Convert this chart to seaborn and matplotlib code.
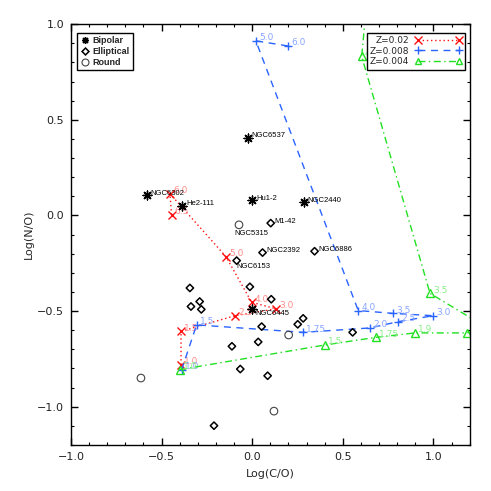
import numpy as np
import pandas as pd
import matplotlib
matplotlib.use("Agg")
import matplotlib.pyplot as plt
from matplotlib.lines import Line2D
from matplotlib.ticker import MultipleLocator
import seaborn as sns

# ---------------- data ----------------
bip_names = ["NGC6302", "He2-111", "NGC6537", "Hu1-2", "NGC2440", "NGC6445"]
bip_co = [-0.583, -0.388, -0.025, 0.0, 0.283, 0.0]
bip_no = [0.105, 0.052, 0.407, 0.079, 0.070, -0.487]

ell_names = ["M1-42", "NGC2392", "NGC6886", "NGC6153"] + [""] * 15
ell_co = [0.102, 0.057, 0.344, -0.086, -0.344, -0.013, -0.338, -0.290, -0.281,
          0.105, 0.281, 0.251, 0.052, 0.554, -0.112, 0.033, -0.066, 0.085, -0.211]
ell_no = [-0.040, -0.194, -0.187, -0.236, -0.379, -0.373, -0.476, -0.450, -0.491,
          -0.438, -0.538, -0.569, -0.581, -0.611, -0.684, -0.661, -0.803, -0.838, -1.099]

rnd_names = ["NGC5315", "", "", ""]
rnd_co = [-0.073, -0.614, 0.201, 0.120]
rnd_no = [-0.049, -0.850, -0.625, -1.023]

z02_mass = ["1.0", "1.5", "2.5", "3.0", "4.0", "5.0", "6.0", "6.5"]
z02_co = [-0.393, -0.393, -0.095, 0.131, -0.003, -0.145, -0.454, -0.445]
z02_no = [-0.780, -0.606, -0.524, -0.488, -0.454, -0.215, 0.114, 0.004]

z008_mass = ["1.0", "1.5", "1.75", "2.0", "2.5", "3.0", "3.5", "4.0", "5.0", "6.0"]
z008_co = [-0.390, -0.307, 0.281, 0.650, 0.806, 0.999, 0.778, 0.585, 0.020, 0.199]
z008_no = [-0.808, -0.572, -0.611, -0.588, -0.555, -0.524, -0.512, -0.497, 0.913, 0.886]

z004_mass = ["1.0", "1.5", "1.75", "1.9", "2.0", "3.0", "3.5", "4.0", "5.0"]
z004_co = [-0.399, 0.402, 0.684, 0.899, 1.183, 1.300, 0.981, 0.604, 0.640]
z004_no = [-0.806, -0.677, -0.637, -0.614, -0.614, -0.590, -0.407, 0.832, 1.200]

x_ticks = [-1.0, -0.5, 0.0, 0.5, 1.0]
y_ticks = [-1.0, -0.5, 0.0, 0.5, 1.0]
XLIM = (-1.0, 1.2)
YLIM = (-1.2, 1.0)

# ---------------- style ----------------
sns.set_theme(style="ticks")
plt.rcParams["font.family"] = ["DejaVu Sans"]

RED, BLUE, GREEN = "#ff1010", "#2a64ff", "#22e022"
RED_L, BLUE_L, GREEN_L = "#ff8c8c", "#8aa6ff", "#88ee88"

fig = plt.figure(figsize=(4.91, 4.91), dpi=100)
ax = fig.add_axes([0.1446, 0.0937, 0.812, 0.857])

tracks = [
    (z02_co, z02_no, z02_mass, RED, RED_L, (0, (1, 2)), "x", dict()),
    (z008_co, z008_no, z008_mass, BLUE, BLUE_L, (0, (5, 4)), "+", dict()),
    (z004_co, z004_no, z004_mass, GREEN, GREEN_L, (0, (5, 2.5, 1, 2.5)), "^",
     dict(markerfacecolor="none")),
]

for co, no, mass, col, lcol, ls, mk, extra in tracks:
    df = pd.DataFrame({"co": co, "no": no})
    sns.lineplot(data=df, x="co", y="no", sort=False, estimator=None, ax=ax,
                 color=col, linestyle=ls, linewidth=1.0, marker=mk,
                 markersize=6, markeredgewidth=1.0, markeredgecolor=col,
                 zorder=2, **extra)
    for xv, yv, m in zip(co, no, mass):
        # labels whose anchor falls outside / at the frame edge are hidden in the original
        if xv > XLIM[1] - 0.05 or yv > YLIM[1]:
            continue
        ax.annotate(m, (xv, yv), xytext=(2.2, 2.2), textcoords="offset points",
                    ha="left", va="center", fontsize=6.5, color=lcol, zorder=2)

df_e = pd.DataFrame({"co": ell_co, "no": ell_no})
sns.scatterplot(data=df_e, x="co", y="no", marker="D", s=14, facecolor="none",
                edgecolor="black", linewidth=1.1, ax=ax, zorder=3)
df_r = pd.DataFrame({"co": rnd_co, "no": rnd_no})
sns.scatterplot(data=df_r, x="co", y="no", marker="o", s=30, facecolor="none",
                edgecolor="#444444", linewidth=0.8, ax=ax, zorder=3)
df_b = pd.DataFrame({"co": bip_co, "no": bip_no})
sns.scatterplot(data=df_b, x="co", y="no", marker="s", s=10, color="black",
                linewidth=0, ax=ax, zorder=3)
sns.scatterplot(data=df_b, x="co", y="no", marker=(8, 2, 0), s=40,
                edgecolor="black", facecolor="black", linewidth=1.0, ax=ax, zorder=3)

lab_font = dict(fontsize=5.5, family=["Liberation Sans", "DejaVu Sans"], color="black")
offsets = {"NGC5315": ((-3, -6), "left"), "NGC6153": ((0, -4), "left"),
           "NGC6445": ((2.5, -3.2), "left")}
for names, co, no in [(bip_names, bip_co, bip_no), (ell_names, ell_co, ell_no),
                      (rnd_names, rnd_co, rnd_no)]:
    for n, xv, yv in zip(names, co, no):
        if not n:
            continue
        off, ha = offsets.get(n, ((3, 1.5), "left"))
        ax.annotate(n, (xv, yv), xytext=off, textcoords="offset points",
                    ha=ha, va="center", zorder=4, **lab_font)

ax.set_xlim(*XLIM)
ax.set_ylim(*YLIM)
ax.set_xticks(x_ticks)
ax.set_yticks(y_ticks)
ax.xaxis.set_minor_locator(MultipleLocator(0.1))
ax.yaxis.set_minor_locator(MultipleLocator(0.1))
ax.tick_params(which="both", direction="in", top=True, right=True,
               labelsize=8, color="black", labelcolor="#222222")
ax.tick_params(which="major", length=5, width=1.0, pad=5)
ax.tick_params(which="minor", length=2.5, width=0.8)
ax.set_xlabel("Log(C/O)", fontsize=8, labelpad=5)
ax.set_ylabel("Log(N/O)", fontsize=8, labelpad=2.5)
for s in ax.spines.values():
    s.set_color("black")
    s.set_linewidth(1.0)

# legends
lf = dict(family=["Liberation Sans", "DejaVu Sans"], size=6.5, weight="bold")
h1 = [Line2D([], [], ls="none", marker=(8, 2, 0), ms=5, mec="black", mfc="black", mew=1.0),
      Line2D([], [], ls="none", marker="D", ms=3.5, mec="black", mfc="none", mew=1.1),
      Line2D([], [], ls="none", marker="o", ms=5, mec="#444444", mfc="none", mew=0.8)]
leg1 = ax.legend(h1, ["Bipolar", "Elliptical", "Round"], loc="upper left",
                 bbox_to_anchor=(0.015, 0.979), borderaxespad=0, prop=lf,
                 frameon=True, fancybox=False, edgecolor="black", framealpha=1,
                 handlelength=1.0, handletextpad=0.4, labelspacing=0.2, borderpad=0.35)
leg1.get_frame().set_linewidth(1.0)
leg1.set_zorder(10)
ax.add_artist(leg1)

h2 = [Line2D([], [], color=RED, ls=(0, (1, 2)), lw=1.0, marker="x", ms=6, mew=1.0),
      Line2D([], [], color=BLUE, ls=(0, (5, 4)), lw=1.0, marker="+", ms=6, mew=1.0),
      Line2D([], [], color=GREEN, ls=(0, (5, 2.5, 1, 2.5)), lw=1.0, marker="^", ms=5,
             mfc="none", mew=1.0)]
lf2 = dict(family=["DejaVu Sans"], size=6.5)
leg2 = ax.legend(h2, ["Z=0.02", "Z=0.008", "Z=0.004"], loc="upper right",
                 bbox_to_anchor=(0.988, 0.98), borderaxespad=0, prop=lf2,
                 frameon=True, fancybox=False, edgecolor="black", framealpha=1,
                 numpoints=2, handlelength=5.2, markerfirst=False,
                 handletextpad=0.6, labelspacing=0.2, borderpad=0.35)
leg2.get_frame().set_linewidth(1.0)
leg2.set_zorder(10)

fig.savefig("out.png", dpi=100)
